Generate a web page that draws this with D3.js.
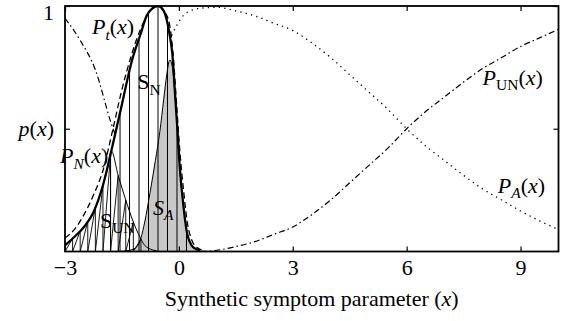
<!DOCTYPE html>
<html>
<head>
<meta charset="utf-8">
<script src="https://cdn.jsdelivr.net/npm/d3@7"></script>
<style>
  html, body { margin: 0; padding: 0; background: #fff; }
  svg { display: block; font-family: "Liberation Serif", "DejaVu Serif", serif; }
</style>
</head>
<body>
<div id="chart"></div>
<script>
// Membership curves (x = symptom parameter, value = p(x))
const xTicks = [-3, 0, 3, 6, 9];
const xTickLabels = ["\u22123", "0", "3", "6", "9"];
const yTicks = [0.5, 1];

// P_t(x), thick solid envelope
const ptX = [-3, -2.75, -2.5, -2.25, -2.0, -1.75, -1.5, -1.25, -1.0, -0.85, -0.7, -0.55, -0.4, -0.3, -0.24, -0.17, -0.1, -0.04, 0.03, 0.11, 0.2, 0.33, 0.45, 0.55];
const ptY = [0.025, 0.06, 0.1, 0.16, 0.27, 0.43, 0.6, 0.77, 0.89, 0.96, 0.99, 1.0, 0.98, 0.93, 0.88, 0.8, 0.64, 0.5, 0.33, 0.2, 0.088, 0.026, 0.01, 0.004];

// P_N(x), dashed
const pnX = [-3, -2.75, -2.5, -2.25, -2.0, -1.75, -1.5, -1.25, -1.0, -0.8, -0.55, -0.35, -0.24, -0.15, -0.06, 0.03, 0.13, 0.22, 0.33, 0.45, 0.55, 0.65];
const pnY = [0.055, 0.09, 0.15, 0.23, 0.33, 0.49, 0.66, 0.8, 0.91, 0.97, 1.0, 0.97, 0.92, 0.8, 0.6, 0.4, 0.24, 0.12, 0.05, 0.02, 0.01, 0.0];

// S_UN upper boundary (thin)
const sunX = [-3, -2.75, -2.5, -2.25, -2.0, -1.85, -1.78, -1.6, -1.4, -1.2, -1.03, -0.9, -0.7, -0.5];
const sunY = [0.025, 0.06, 0.1, 0.16, 0.27, 0.36, 0.41, 0.31, 0.21, 0.12, 0.06, 0.025, 0.007, 0];

// S_A (grey)
const saX = [-1.6, -1.3, -1.1, -1.0, -0.9, -0.76, -0.62, -0.5, -0.4, -0.32, -0.24, -0.17, -0.1, -0.04, 0.03, 0.11, 0.2, 0.33, 0.45, 0.55];
const saY = [0, 0.005, 0.02, 0.055, 0.12, 0.24, 0.37, 0.49, 0.62, 0.72, 0.78, 0.75, 0.63, 0.5, 0.33, 0.2, 0.088, 0.026, 0.01, 0.004];

// P_UN(x), dash-dot
const punX = [-3, -2.6, -2.2, -1.8, -1.4, -1.0, -0.6, -0.2, 0.2, 0.5, 1.0, 1.5, 2.0, 2.5, 3.0, 3.5, 4.0, 4.5, 5.0, 5.5, 6.0, 6.5, 7.0, 7.5, 8.0, 8.5, 9.0, 9.5, 10];
const punY = [0.95, 0.86, 0.74, 0.53, 0.36, 0.2, 0.09, 0.03, 0.005, 0.0, 0.005, 0.02, 0.04, 0.07, 0.1, 0.15, 0.21, 0.28, 0.35, 0.42, 0.5, 0.57, 0.63, 0.69, 0.745, 0.79, 0.835, 0.87, 0.905];

// P_A(x), dotted
const paX = [-0.19, -0.06, 0.11, 0.29, 0.55, 1.0, 1.5, 2.0, 2.5, 3.0, 3.5, 4.0, 4.5, 5.0, 5.5, 6.0, 6.5, 7.0, 7.5, 8.0, 8.5, 9.0, 9.5, 10];
const paY = [0.88, 0.92, 0.96, 0.98, 0.99, 0.995, 0.98, 0.96, 0.93, 0.9, 0.85, 0.79, 0.72, 0.65, 0.58, 0.5, 0.43, 0.37, 0.31, 0.255, 0.21, 0.165, 0.125, 0.09];

// vertical hatch stems and S_UN zigzag positions
const stemX = [-1.8, -1.55, -1.3, -1.05, -0.8, -0.55, -0.3, -0.05, 0.2];
const zigX = [-3, -2.8, -2.6, -2.4, -2.2, -2.0, -1.8, -1.6, -1.4, -1.2, -1.0];

const width = 571, height = 321;
const margin = {top: 6, right: 12.5, bottom: 69.5, left: 65};
const fontSize = 22, subSize = 15.5;

const x = d3.scaleLinear().domain([-3, 10]).range([margin.left, width - margin.right]);
const y = d3.scaleLinear().domain([0, 1]).range([height - margin.bottom, margin.top]);

const zip = (xs, ys) => xs.map((v, i) => [v, ys[i]]);
const ptAt = d3.scaleLinear().domain(ptX).range(ptY).clamp(true);
const sunAt = d3.scaleLinear().domain(sunX).range(sunY).clamp(true);

const line = d3.line().x(d => x(d[0])).y(d => y(d[1])).curve(d3.curveMonotoneX);
const area = d3.area().x(d => x(d[0])).y0(y(0)).y1(d => y(d[1])).curve(d3.curveMonotoneX);
const poly = d3.line().x(d => x(d[0])).y(d => y(d[1]));

const svg = d3.select("#chart").append("svg")
    .attr("width", width)
    .attr("height", height)
    .attr("font-size", fontSize);

svg.append("defs").append("clipPath").attr("id", "plot")
  .append("rect")
    .attr("x", x(-3)).attr("y", y(1))
    .attr("width", x(10) - x(-3)).attr("height", y(0) - y(1));

const plot = svg.append("g").attr("clip-path", "url(#plot)");

// P_UN and P_A first, the filled area sits over them
plot.append("path")
    .attr("d", line(zip(punX, punY)))
    .attr("fill", "none").attr("stroke", "#000").attr("stroke-width", 1.2)
    .attr("stroke-dasharray", "6,3,1.5,3");

plot.append("path")
    .attr("d", line(zip(paX, paY)))
    .attr("fill", "none").attr("stroke", "#000").attr("stroke-width", 1.3)
    .attr("stroke-dasharray", "1.3,4.2");

plot.append("path")
    .attr("d", area(zip(ptX, ptY)))
    .attr("fill", "#fff");

plot.append("path")
    .attr("d", area(zip(saX, saY)))
    .attr("fill", "#c8c8c8");

// vertical stems up to P_t
plot.append("g").selectAll("line")
  .data(stemX)
  .join("line")
    .attr("x1", d => x(d)).attr("x2", d => x(d))
    .attr("y1", y(0)).attr("y2", d => y(ptAt(d)))
    .attr("stroke", "#000").attr("stroke-width", 1);

// sawtooth hatch inside S_UN
const zig = [];
zigX.forEach((v, i) => {
  if (i === zigX.length - 1) return;
  const n = zigX[i + 1];
  zig.push([v, 0], [n, sunAt(n)], [n, 0]);
});
plot.append("path")
    .attr("d", poly(zig))
    .attr("fill", "none").attr("stroke", "#000").attr("stroke-width", 0.9);

plot.append("path")
    .attr("d", line(zip(sunX, sunY)))
    .attr("fill", "none").attr("stroke", "#000").attr("stroke-width", 1);

plot.append("path")
    .attr("d", line(zip(saX, saY)))
    .attr("fill", "none").attr("stroke", "#000").attr("stroke-width", 1);

plot.append("path")
    .attr("d", line(zip(pnX, pnY)))
    .attr("fill", "none").attr("stroke", "#000").attr("stroke-width", 1.3)
    .attr("stroke-dasharray", "6,3.5");

plot.append("path")
    .attr("d", line(zip(ptX, ptY)))
    .attr("fill", "none").attr("stroke", "#000").attr("stroke-width", 2.3);

// axes with inward ticks
svg.append("g")
    .attr("transform", `translate(0,${y(0)})`)
    .call(d3.axisBottom(x).tickValues(xTicks).tickSize(-5).tickPadding(8)
      .tickFormat((d, i) => xTickLabels[i]));
svg.append("g")
    .attr("transform", `translate(0,${y(1)})`)
    .call(d3.axisTop(x).tickValues(xTicks).tickSize(-5).tickFormat(""));
const yAxis = svg.append("g")
    .attr("transform", `translate(${x(-3)},0)`)
    .call(d3.axisLeft(y).tickValues(yTicks).tickSize(-5).tickPadding(11)
      .tickFormat(d => d === 1 ? "1" : ""));
svg.append("g")
    .attr("transform", `translate(${x(10)},0)`)
    .call(d3.axisRight(y).tickValues(yTicks).tickSize(-5).tickFormat(""));

svg.selectAll(".domain").remove();
svg.selectAll(".tick line").attr("stroke", "#000").attr("stroke-width", 1.2);
svg.selectAll(".tick text")
    .attr("font-family", "Liberation Serif, DejaVu Serif, serif")
    .attr("font-size", fontSize).attr("fill", "#000");

// keep the "1" inside the top edge
yAxis.selectAll(".tick text").filter(d => d === 1).attr("dy", "0.6em");

// p(x) label at the 0.5 tick
yAxis.selectAll(".tick text").filter(d => d === 0.5).each(function() {
  const t = d3.select(this);
  t.append("tspan").attr("font-style", "italic").text("p");
  t.append("tspan").text("(");
  t.append("tspan").attr("font-style", "italic").text("x");
  t.append("tspan").text(")");
});

svg.append("rect")
    .attr("x", x(-3)).attr("y", y(1))
    .attr("width", x(10) - x(-3)).attr("height", y(0) - y(1))
    .attr("fill", "none").attr("stroke", "#000").attr("stroke-width", 1.8);

// curve labels: parts are [text, italic, subscript]
function label(xv, yv, parts) {
  const t = svg.append("text")
      .attr("x", x(xv)).attr("y", y(yv))
      .attr("font-size", fontSize);
  let down = false;
  parts.forEach(([s, it, sub]) => {
    const sp = t.append("tspan").text(s);
    if (it) sp.attr("font-style", "italic");
    if (sub) {
      sp.attr("font-size", subSize);
      if (!down) { sp.attr("dy", 5.5); down = true; }
    } else if (down) { sp.attr("dy", -5.5); down = false; }
  });
}

label(-2.29, 0.885, [["P", true], ["t", true, true], ["("], ["x", true], [")"]]);
label(-3.13, 0.36, [["P", true], ["N", true, true], ["("], ["x", true], [")"]]);
label(8.0, 0.68, [["P", true], ["UN", false, true], ["("], ["x", true], [")"]]);
label(8.4, 0.24, [["P", true], ["A", true, true], ["("], ["x", true], [")"]]);
label(-1.1, 0.66, [["S"], ["N", false, true]]);
label(-2.08, 0.096, [["S"], ["UN", false, true]]);
label(-0.68, 0.15, [["S", true], ["A", true, true]]);

// x axis title
svg.append("text")
    .attr("x", (x(-3) + x(10)) / 2)
    .attr("y", 306)
    .attr("text-anchor", "middle")
    .attr("font-size", fontSize)
    .call(t => {
      t.append("tspan").text("Synthetic symptom parameter (");
      t.append("tspan").attr("font-style", "italic").text("x");
      t.append("tspan").text(")");
    });
</script>
</body>
</html>
